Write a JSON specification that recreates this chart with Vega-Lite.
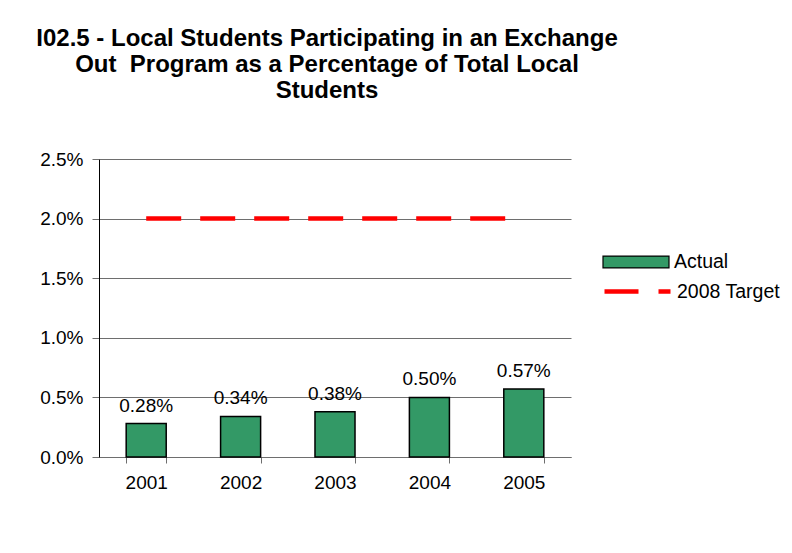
{
  "$schema": "https://vega.github.io/schema/vega-lite/v6.json",
  "width": 472,
  "height": 298,
  "autosize": {"type": "none"},
  "padding": {"left": 99, "top": 159, "right": 221, "bottom": 96},
  "background": "white",
  "config": {"font": "Liberation Sans", "view": {"stroke": null}},
  "title": {
    "text": ["I02.5 - Local Students Participating in an Exchange", "Out \u00a0Program as a Percentage of Total Local", "Students"],
    "font": "Liberation Sans",
    "fontSize": 24,
    "fontWeight": "bold",
    "lineHeight": 26,
    "anchor": "middle",
    "frame": "group",
    "offset": 47,
    "dx": -8,
    "color": "black"
  },
  "data": {
    "values": [
      {"year": "2001", "actual": 0.0028, "target": 0.02, "s1": "Actual", "s2": "2008 Target"},
      {"year": "2002", "actual": 0.0034, "target": 0.02, "s1": "Actual", "s2": "2008 Target"},
      {"year": "2003", "actual": 0.0038, "target": 0.02, "s1": "Actual", "s2": "2008 Target"},
      {"year": "2004", "actual": 0.0050, "target": 0.02, "s1": "Actual", "s2": "2008 Target"},
      {"year": "2005", "actual": 0.0057, "target": 0.02, "s1": "Actual", "s2": "2008 Target"}
    ]
  },
  "encoding": {
    "x": {
      "field": "year",
      "type": "nominal",
      "scale": {"paddingInner": 0.576, "paddingOuter": 0.288},
      "axis": {
        "title": null,
        "labelAngle": 0,
        "labelFontSize": 19,
        "labelColor": "black",
        "labelPadding": 10,
        "tickBand": "extent",
        "tickSize": 6,
        "tickColor": "#6e6e6e",
        "domainColor": "#6e6e6e",
        "grid": false
      }
    }
  },
  "layer": [
    {
      "mark": {"type": "bar", "stroke": "black", "strokeWidth": 1.5},
      "encoding": {
        "y": {
          "field": "actual",
          "type": "quantitative",
          "scale": {"domain": [0, 0.025], "nice": false},
          "axis": {
            "title": null,
            "values": [0, 0.005, 0.01, 0.015, 0.02, 0.025],
            "format": ".1%",
            "labelFontSize": 19,
            "labelColor": "black",
            "labelPadding": 9,
            "tickSize": 7,
            "tickColor": "#6e6e6e",
            "domainColor": "black",
            "grid": true,
            "gridColor": "#6e6e6e",
            "gridWidth": 1
          }
        },
        "fill": {
          "field": "s1",
          "type": "nominal",
          "scale": {"domain": ["Actual"], "range": ["#339966"]},
          "legend": {
            "title": null,
            "orient": "none",
            "legendX": 503,
            "legendY": 69,
            "labelFontSize": 19.5,
            "labelColor": "black",
            "symbolType": "M-1,-0.18H1V0.18H-1Z",
            "symbolSize": 4356,
            "symbolStrokeColor": "black",
            "symbolStrokeWidth": 1.2,
            "symbolOpacity": 1,
            "labelOffset": 4
          }
        }
      }
    },
    {
      "mark": {"type": "text", "fontSize": 19, "baseline": "bottom", "dy": -8, "color": "black"},
      "encoding": {
        "y": {"field": "actual", "type": "quantitative", "scale": {"domain": [0, 0.025], "nice": false}},
        "text": {"field": "actual", "type": "quantitative", "format": ".2%"}
      }
    },
    {
      "mark": {"type": "line", "strokeWidth": 4.5, "strokeDash": [35, 19]},
      "encoding": {
        "y": {"field": "target", "type": "quantitative", "scale": {"domain": [0, 0.025], "nice": false}},
        "stroke": {
          "field": "s2",
          "type": "nominal",
          "scale": {"domain": ["2008 Target"], "range": ["#ff0000"]},
          "legend": {
            "title": null,
            "orient": "none",
            "legendX": 503,
            "legendY": 97,
            "labelFontSize": 19.5,
            "labelColor": "black",
            "symbolType": "stroke",
            "symbolSize": 4356,
            "symbolStrokeWidth": 4.5,
            "symbolDash": [34, 20],
            "symbolOpacity": 1,
            "labelOffset": 4
          }
        }
      }
    }
  ]
}
